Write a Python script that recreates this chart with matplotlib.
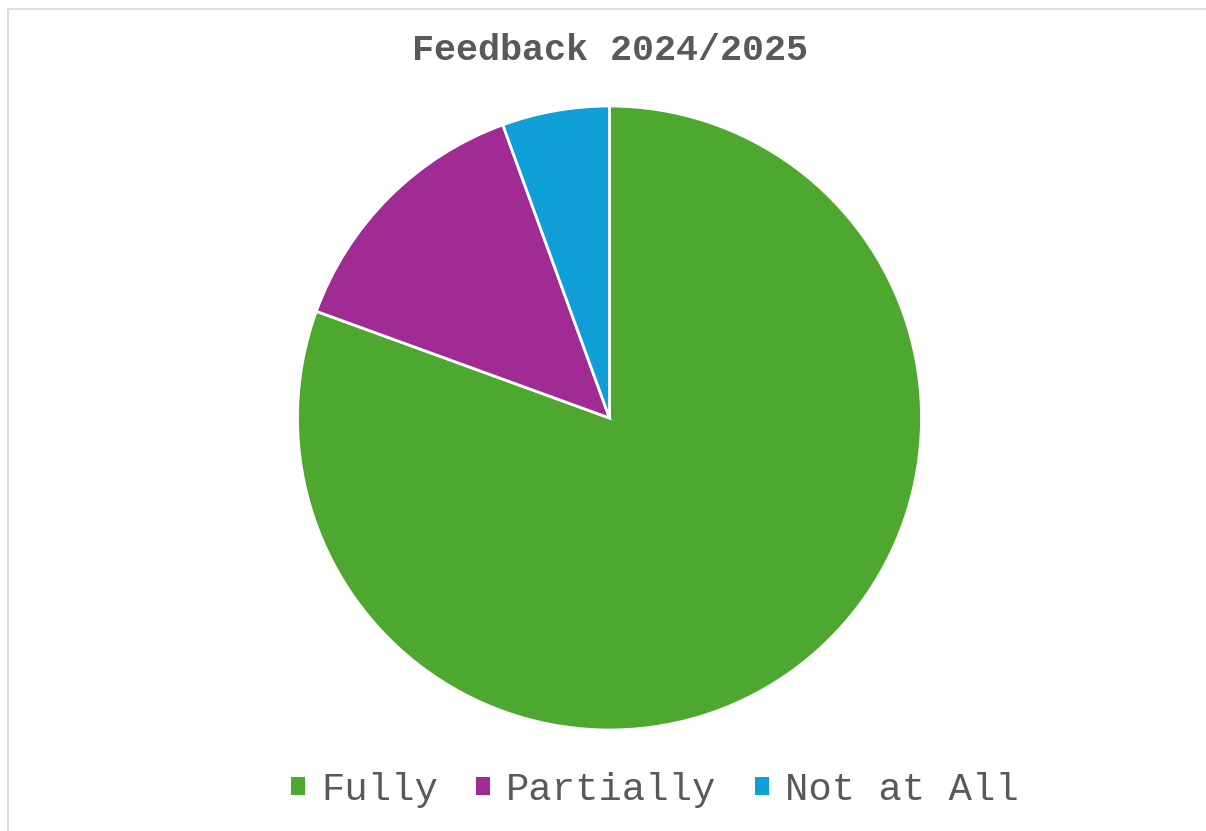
import matplotlib.pyplot as plt
from matplotlib.patches import Patch
from matplotlib.lines import Line2D

# respostas (contagens)
categorias = ["Fully", "Partially", "Not at All"]
respostas = [58, 10, 4]
cores = ["#4EA72E", "#A02B93", "#0F9ED5"]

W, H = 1206, 831
fig = plt.figure(figsize=(W / 100, H / 100), dpi=100)

# borda do gráfico (só esquerda e topo aparecem)
fig.add_artist(Line2D([8 / W, 8 / W, 1], [0, 1 - 9 / H, 1 - 9 / H],
                      transform=fig.transFigure, color="#D9D9D9", lw=1.2))

# pizza: centro (609.5, 418), raio 312 px
cx, cy, r = 609.5, 418, 312
ax = fig.add_axes([(cx - r) / W, (H - cy - r) / H, 2 * r / W, 2 * r / H])
ax.pie(respostas, colors=cores, startangle=90, counterclock=False,
       radius=1, wedgeprops=dict(edgecolor="white", linewidth=2))
ax.set_xlim(-1, 1)
ax.set_ylim(-1, 1)
ax.set_aspect("equal")
ax.axis("off")

fig.text(610 / W, 1 - 50 / H, "Feedback 2024/2025", ha="center", va="center",
         fontsize=26.5, fontweight="bold", color="#595959", family="Liberation Mono")

handles = [Patch(facecolor=c, edgecolor="none") for c in cores]
fig.legend(handles, categorias, loc="center", bbox_to_anchor=(655 / W, 1 - 790 / H),
           ncol=3, frameon=False, handlelength=0.36, handleheight=0.36,
           handletextpad=0.41, columnspacing=0.98, borderpad=0, borderaxespad=0,
           prop=dict(family="Liberation Mono", size=28), labelcolor="#595959")

plt.savefig("out.png", dpi=100)
